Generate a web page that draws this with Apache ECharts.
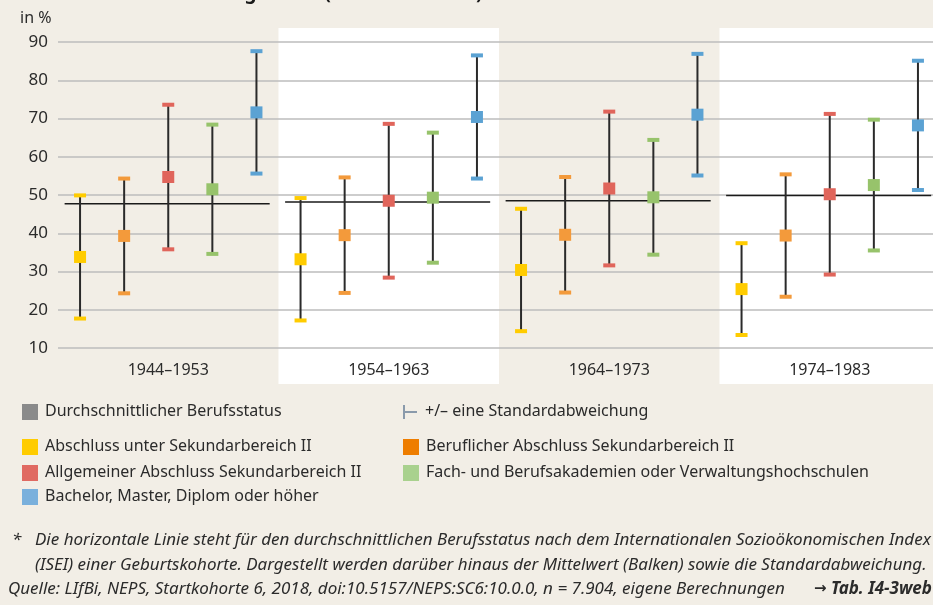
<!DOCTYPE html>
<html>
<head>
<meta charset="utf-8">
<script src="https://cdn.jsdelivr.net/npm/echarts@6/dist/echarts.min.js"></script>
<style>
  html, body { margin: 0; padding: 0; background: #f2eee6; overflow: hidden; }
  #chart { width: 940px; height: 605px; }
</style>
</head>
<body>
<div id="chart"></div>
<script>
// Geburtskohorten
const categories = ['1944–1953', '1954–1963', '1964–1973', '1974–1983'];
const yTicks = [10, 20, 30, 40, 50, 60, 70, 80, 90];

// Durchschnittlicher Berufsstatus (horizontale Linie)
const avgStatus = [47.7, 48.2, 48.5, 49.9];

// Mittelwerte und Standardabweichungen nach Bildungsstand
const unterMean = [33.8, 33.2, 30.4, 25.4];
const unterSd = [16.1, 16.0, 16.0, 12.0];
const berufMean = [39.3, 39.5, 39.6, 39.4];
const berufSd = [15.0, 15.1, 15.1, 16.0];
const allgMean = [54.7, 48.5, 51.7, 50.2];
const allgSd = [18.9, 20.1, 20.1, 21.0];
const fachMean = [51.5, 49.3, 49.4, 52.6];
const fachSd = [16.9, 17.0, 15.0, 17.1];
const bachMean = [71.6, 70.4, 71.0, 68.2];
const bachSd = [16.0, 16.1, 15.9, 16.9];

const groups = [
  { name: 'Abschluss unter Sekundarbereich II', mean: unterMean, sd: unterSd, color: '#ffcc00', legend: '#ffcc00' },
  { name: 'Beruflicher Abschluss Sekundarbereich II', mean: berufMean, sd: berufSd, color: '#f39a3b', legend: '#ee7d00' },
  { name: 'Allgemeiner Abschluss Sekundarbereich II', mean: allgMean, sd: allgSd, color: '#e0655b', legend: '#e06a62' },
  { name: 'Fach- und Berufsakademien oder Verwaltungshochschulen', mean: fachMean, sd: fachSd, color: '#97c36b', legend: '#a9d18e' },
  { name: 'Bachelor, Master, Diplom oder höher', mean: bachMean, sd: bachSd, color: '#5ba2d3', legend: '#7ab0dc' }
];

const FONT = '"Noto Sans", sans-serif';
const TXT = '#2b2b2b';

const chart = echarts.init(document.getElementById('chart'));

// weiße Hintergrundbänder für jede zweite Kohorte
const bandSeries = {
  type: 'custom',
  z: -1,
  silent: true,
  data: [[1, 50], [3, 50]],
  encode: { x: 0, y: 1 },
  renderItem: function (params, api) {
    const band = api.size([1, 0])[0];
    const cx = api.coord([api.value(0), 50])[0];
    return {
      type: 'rect',
      shape: { x: cx - band / 2, y: 28, width: band, height: 356 },
      style: { fill: '#ffffff' }
    };
  }
};

const avgSeries = {
  type: 'custom',
  name: 'Durchschnittlicher Berufsstatus',
  silent: true,
  z: 2,
  data: categories.map((c, k) => [k, avgStatus[k]]),
  encode: { x: 0, y: 1 },
  renderItem: function (params, api) {
    const band = api.size([1, 0])[0];
    const p = api.coord([api.value(0), api.value(1)]);
    return {
      type: 'line',
      shape: { x1: p[0] - band * 0.47, y1: p[1], x2: p[0] + band * 0.46, y2: p[1] },
      style: { stroke: '#1a1a1a', lineWidth: 1.5 }
    };
  }
};

const errSeries = groups.map((g, i) => ({
  type: 'custom',
  name: g.name,
  z: 3,
  data: categories.map((c, k) => [k, g.mean[k], g.sd[k]]),
  encode: { x: 0, y: 1 },
  renderItem: function (params, api) {
    const band = api.size([1, 0])[0];
    const cat = api.value(0), m = api.value(1), s = api.value(2);
    const pm = api.coord([cat, m]);
    const x = pm[0] + (i - 2) * band * 0.2;
    const yU = api.coord([cat, m + s])[1];
    const yL = api.coord([cat, m - s])[1];
    return {
      type: 'group',
      children: [
        { type: 'line', shape: { x1: x, y1: yU, x2: x, y2: yL }, style: { stroke: '#2a2a2a', lineWidth: 2 } },
        { type: 'rect', shape: { x: x - 6, y: yU - 2, width: 12, height: 4 }, style: { fill: g.color } },
        { type: 'rect', shape: { x: x - 6, y: yL - 2, width: 12, height: 4 }, style: { fill: g.color } },
        { type: 'rect', shape: { x: x - 6, y: pm[1] - 6, width: 12, height: 12 }, style: { fill: g.color } }
      ]
    };
  }
}));

// Legende
const legendFont = '16px ' + FONT;
const legendEls = [];
function legendItem(x, y, color, label) {
  legendEls.push({ type: 'rect', left: x, top: y - 8, shape: { width: 16, height: 16 }, style: { fill: color } });
  legendEls.push({ type: 'text', left: x + 23, top: y - 9, style: { text: label, font: legendFont, fill: TXT } });
}
legendItem(22, 412, '#8a8a8a', 'Durchschnittlicher Berufsstatus');
legendEls.push({ type: 'line', shape: { x1: 404, y1: 405, x2: 404, y2: 419 }, style: { stroke: '#8a9aab', lineWidth: 2 } });
legendEls.push({ type: 'line', shape: { x1: 404, y1: 412, x2: 417, y2: 412 }, style: { stroke: '#8a9aab', lineWidth: 2 } });
legendEls.push({ type: 'text', left: 425, top: 403, style: { text: '+/– eine Standardabweichung', font: legendFont, fill: TXT } });
legendItem(22, 447, groups[0].legend, groups[0].name);
legendItem(403, 447, groups[1].legend, groups[1].name);
legendItem(22, 473, groups[2].legend, groups[2].name);
legendItem(403, 473, groups[3].legend, groups[3].name);
legendItem(22, 497, groups[4].legend, groups[4].name);

const noteFont = 'italic 17px ' + FONT;
const notes = [
  { type: 'text', left: 12, top: 532, style: { text: '*', font: noteFont, fill: TXT } },
  { type: 'text', left: 35, top: 532, style: { text: 'Die horizontale Linie steht für den durchschnittlichen Berufsstatus nach dem Internationalen Sozioökonomischen Index', font: noteFont, fill: TXT } },
  { type: 'text', left: 35, top: 557, style: { text: '(ISEI) einer Geburtskohorte. Dargestellt werden darüber hinaus der Mittelwert (Balken) sowie die Standardabweichung.', font: noteFont, fill: TXT } },
  { type: 'text', left: 8, top: 581, style: { text: 'Quelle: LIfBi, NEPS, Startkohorte 6, 2018, doi:10.5157/NEPS:SC6:10.0.0, n = 7.904, eigene Berechnungen', font: noteFont, fill: TXT } },
  { type: 'text', left: 814, top: 582, style: { text: '→', font: 'bold 15px "DejaVu Sans", sans-serif', fill: TXT } },
  { type: 'text', left: 831, top: 581, style: { text: 'Tab. I4-3web', font: 'italic bold 17px ' + FONT, fill: TXT } }
];

const option = {
  backgroundColor: '#f2eee6',
  animation: false,
  textStyle: { fontFamily: FONT },
  grid: { left: 58, top: 42, right: 0, bottom: 257, containLabel: false },
  xAxis: {
    type: 'category',
    data: categories,
    axisLine: { show: false },
    axisTick: { show: false },
    axisLabel: { fontSize: 16, color: TXT, margin: 14, fontFamily: FONT }
  },
  yAxis: {
    type: 'value',
    min: 10,
    max: 90,
    interval: 10,
    axisLine: { show: false },
    axisTick: { show: false },
    axisLabel: { fontSize: 17, color: TXT, margin: 10, fontFamily: FONT,
      formatter: v => yTicks.includes(v) ? String(v) : '' },
    splitLine: { lineStyle: { color: '#bdbdbd', width: 1.5 } }
  },
  graphic: [
    { type: 'text', left: 133, top: -16, style: { text: 'nach Bildungsstand (in ISEI-Punkten)', font: 'bold 19px ' + FONT, fill: '#1a1a1a' } },
    { type: 'text', left: 20, top: 10, style: { text: 'in %', font: '16px ' + FONT, fill: TXT } }
  ].concat(legendEls, notes),
  series: [bandSeries, avgSeries].concat(errSeries)
};

chart.setOption(option);
</script>
</body>
</html>
